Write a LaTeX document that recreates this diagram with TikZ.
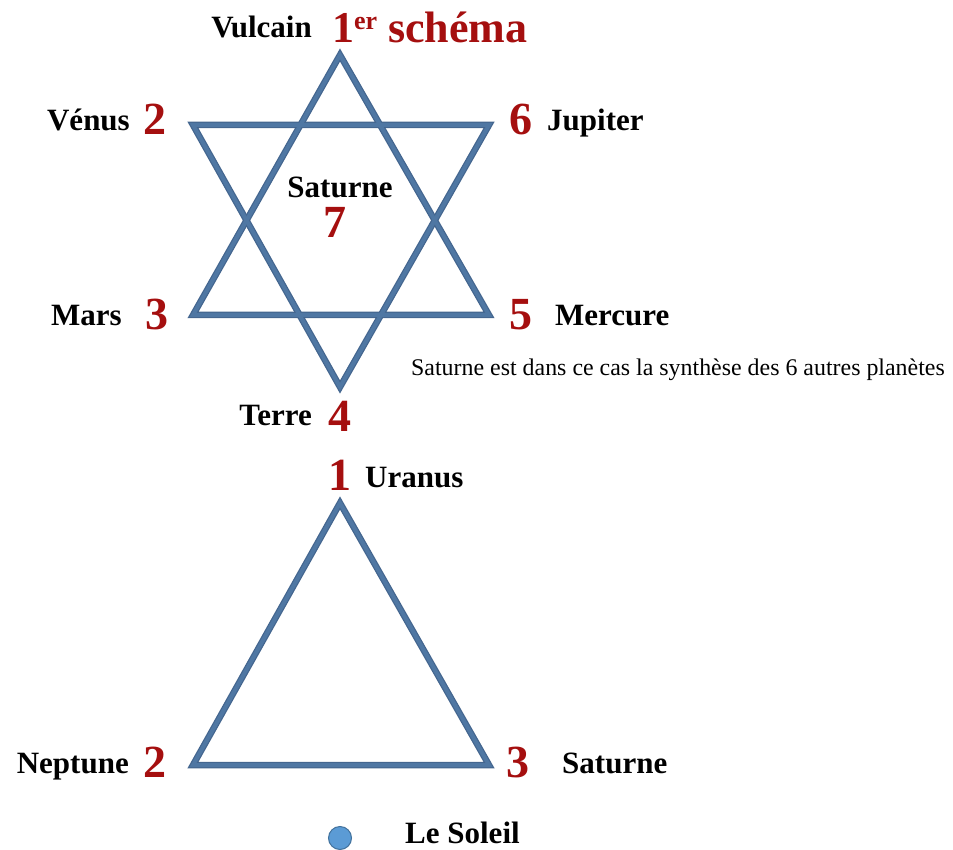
\documentclass[tikz,border=0pt]{standalone}
\usepackage{fontspec}
\setmainfont{Liberation Serif}
\begin{document}
\begin{tikzpicture}[x=1pt,y=-1pt,
  star/.style={draw=starblue,line width=6.5pt,line join=miter},
  starin/.style={draw=starlight,line width=4pt,line join=miter},
  lbl/.style={inner sep=0pt,anchor=base,font=\fontsize{31}{31}\selectfont\bfseries},
  num/.style={inner sep=0pt,anchor=base,text=numred,font=\fontsize{46}{46}\selectfont\bfseries},
  note/.style={inner sep=0pt,anchor=base west,font=\fontsize{23.9}{24}\selectfont}]
\definecolor{starblue}{HTML}{44668F}
\definecolor{starlight}{HTML}{4F77A3}
\definecolor{numred}{HTML}{A50F0F}
\definecolor{sunfill}{HTML}{5B9BD5}
\definecolor{sundraw}{HTML}{41719C}
\useasboundingbox (0,0) rectangle (953,850);
% star
\coordinate (A) at (340,55);
\coordinate (B) at (193,315);
\coordinate (C) at (489,315);
\coordinate (D) at (193,125);
\coordinate (E) at (489,125);
\coordinate (F) at (340,387);
\draw[star] (A) -- (B) -- (C) -- cycle;
\draw[star] (D) -- (E) -- (F) -- cycle;
\draw[starin] (A) -- (B) -- (C) -- cycle;
\draw[starin] (D) -- (E) -- (F) -- cycle;
% lower triangle
\coordinate (G) at (340,503);
\coordinate (H) at (193,765);
\coordinate (I) at (489,765);
\draw[star] (G) -- (H) -- (I) -- cycle;
\draw[starin] (G) -- (H) -- (I) -- cycle;
% labels
\node[lbl,anchor=base east] (vulcain) at (312,38) {Vulcain};
\node[num,anchor=base west,text=numred,font=\fontsize{44}{44}\selectfont\bfseries] (title) at (332,43) {1\raisebox{0.3em}{\fontsize{26}{26}\selectfont er} schéma};
\node[lbl,anchor=base east] (venus) at (130,131) {Vénus};
\node[num] (n2) at (155,135) {2};
\node[num] (n6) at (521,135) {6};
\node[lbl,anchor=base west] (jupiter) at (547,131) {Jupiter};
\node[lbl] (saturne) at (340,198) {Saturne};
\node[num] (n7) at (335,238) {7};
\node[lbl,anchor=base east] (mars) at (122,325) {Mars};
\node[num] (n3) at (157,329) {3};
\node[num] (n5) at (521,329) {5};
\node[lbl,anchor=base west] (mercure) at (555,325) {Mercure};
\node[note] (synth) at (411,375) {Saturne est dans ce cas la synthèse des 6 autres planètes};
\node[lbl,anchor=base east] (terre) at (312,425) {Terre};
\node[num] (n4) at (340,431) {4};
\node[num] (u1) at (340,490) {1};
\node[lbl,anchor=base west] (uranus) at (365,487) {Uranus};
\node[lbl,anchor=base east] (neptune) at (129,773) {Neptune};
\node[num] (b2) at (155,777) {2};
\node[num] (b3) at (518,777) {3};
\node[lbl,anchor=base west] (saturne2) at (562,773) {Saturne};
\node[circle,draw=sundraw,fill=sunfill,line width=1pt,minimum size=23pt,inner sep=0pt] (sun) at (340,838) {};
\node[lbl,anchor=base west] (soleil) at (405,843) {Le Soleil};
\end{tikzpicture}
\end{document}
